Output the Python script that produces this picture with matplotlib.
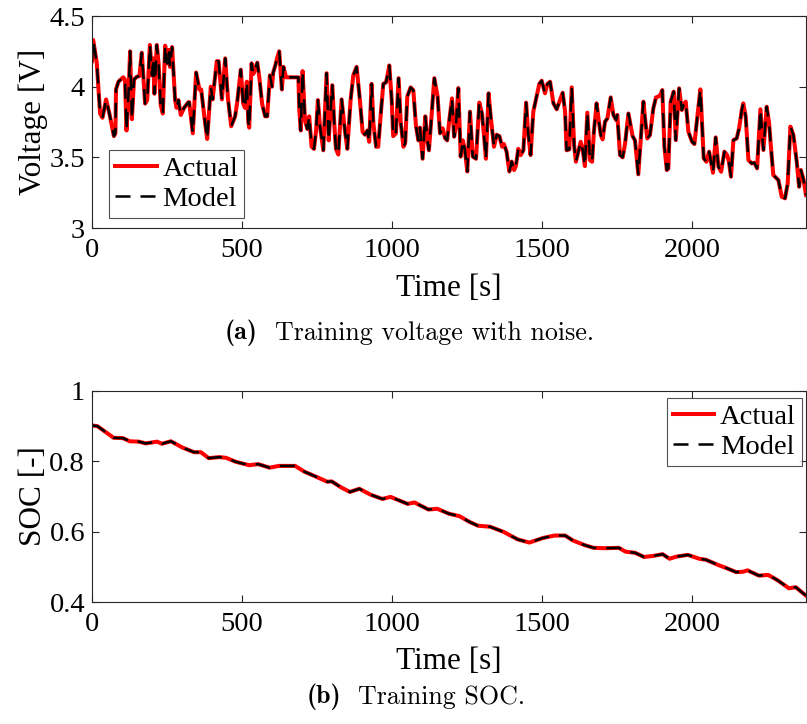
import matplotlib
matplotlib.use("Agg")
import matplotlib.pyplot as plt

# 电压数据
time_v = [0, 4, 16, 27, 35, 47, 58, 73, 78, 80, 88, 104, 110, 115, 122, 127, 133, 140, 149, 158,
          166, 177, 184, 193, 200, 204, 208, 216, 222, 229, 236, 244, 251, 256, 260, 267, 277, 282,
          288, 296, 307, 321, 324, 336, 347, 358, 364, 376, 384, 396, 402, 416, 422, 433, 444, 453,
          464, 477, 484, 496, 504, 510, 516, 521, 524, 532, 538, 544, 551, 558, 567, 577, 584, 593,
          600, 604, 611, 618, 624, 633, 638, 647, 688, 691, 696, 702, 710, 718, 724, 732, 740, 747,
          753, 760, 771, 782, 789, 793, 801, 807, 813, 821, 832, 843, 851, 862, 871, 882, 893, 902,
          910, 918, 924, 932, 938, 947, 954, 962, 971, 980, 984, 991, 999, 1004, 1013, 1022, 1029,
          1038, 1044, 1051, 1062, 1071, 1080, 1088, 1093, 1102, 1111, 1118, 1123, 1130, 1141, 1152,
          1160, 1169, 1177, 1184, 1191, 1200, 1207, 1213, 1221, 1229, 1236, 1243, 1251, 1260, 1269,
          1280, 1291, 1300, 1307, 1313, 1322, 1329, 1340, 1349, 1358, 1367, 1373, 1382, 1391, 1399,
          1407, 1413, 1421, 1429, 1438, 1447, 1454, 1462, 1471, 1482, 1491, 1499, 1510, 1518, 1527,
          1538, 1549, 1558, 1569, 1577, 1582, 1591, 1599, 1607, 1613, 1621, 1629, 1636, 1643, 1651,
          1660, 1667, 1673, 1682, 1689, 1696, 1702, 1710, 1718, 1729, 1738, 1747, 1751, 1760, 1769,
          1777, 1788, 1796, 1802, 1810, 1821, 1829, 1838, 1844, 1851, 1860, 1871, 1880, 1888, 1895,
          1901, 1908, 1916, 1921, 1929, 1939, 1946, 1957, 1966, 1972, 1979, 1988, 2000, 2008, 2019,
          2028, 2039, 2048, 2057, 2061, 2070, 2079, 2088, 2097, 2108, 2117, 2123, 2130, 2138, 2149,
          2157, 2166, 2171, 2179, 2188, 2199, 2208, 2217, 2228, 2238, 2249, 2257, 2263, 2271, 2288,
          2299, 2310, 2319, 2328, 2338, 2349, 2357, 2363, 2372, 2380]
voltage = [4.18, 4.33, 4.165, 3.81, 3.78, 3.91, 3.81, 3.65, 3.67, 3.98, 4.035, 4.066, 4.05, 3.69,
           3.96, 4.25, 3.77, 4.05, 4.07, 4.075, 4.24, 3.88, 3.905, 4.295, 4.08, 4.20, 3.95, 4.295,
           4.165, 3.87, 3.81, 4.29, 4.165, 4.26, 4.14, 4.28, 3.905, 3.85, 3.905, 3.80, 3.85, 3.89,
           3.89, 3.67, 4.10, 3.98, 3.98, 3.76, 3.63, 4.00, 3.91, 4.18, 4.18, 3.91, 4.20, 3.92,
           3.72, 3.79, 3.89, 4.12, 3.88, 3.85, 4.035, 3.75, 3.71, 4.165, 4.09, 4.13, 4.17, 4.06,
           3.88, 3.79, 3.79, 4.08, 4.00, 4.10, 4.15, 4.21, 4.25, 3.98, 4.14, 4.066, 4.066, 3.835,
           3.69, 4.11, 3.76, 3.70, 3.79, 3.575, 3.56, 3.69, 3.905, 3.72, 3.55, 4.095, 3.62, 3.76,
           4.01, 3.76, 3.56, 3.52, 3.91, 3.69, 3.56, 3.905, 4.08, 4.14, 3.905, 3.68, 3.66, 3.69,
           3.61, 4.02, 3.74, 3.575, 3.575, 3.79, 4.02, 4.03, 4.07, 4.15, 3.905, 3.65, 3.67, 4.06,
           3.75, 3.575, 3.60, 3.93, 3.995, 3.975, 3.72, 3.62, 3.71, 3.49, 3.79, 3.62, 3.55, 3.74,
           4.06, 3.93, 3.67, 3.705, 3.635, 3.62, 3.764, 3.917, 3.646, 3.716, 3.99, 3.505, 3.62,
           3.55, 3.40, 3.823, 3.505, 3.49, 3.887, 3.81, 3.646, 3.49, 3.953, 3.79, 3.575, 3.66,
           3.65, 3.575, 3.594, 3.54, 3.40, 3.47, 3.41, 3.44, 3.56, 3.516, 3.55, 3.887, 3.67, 3.516,
           3.823, 3.929, 4.019, 4.042, 3.953, 4.019, 4.035, 3.882, 3.84, 3.894, 3.957, 3.823, 3.55,
           3.556, 3.995, 3.587, 3.469, 3.54, 3.61, 3.55, 3.438, 3.816, 3.48, 3.469, 3.68, 3.882,
           3.764, 3.658, 3.627, 3.752, 3.776, 3.924, 3.80, 3.764, 3.80, 3.516, 3.50, 3.599, 3.81,
           3.717, 3.65, 3.62, 3.38, 3.62, 3.894, 3.764, 3.634, 3.658, 3.846, 3.924, 3.93, 3.945,
           3.976, 3.575, 3.41, 3.42, 3.894, 3.965, 3.622, 3.988, 3.835, 3.87, 3.894, 3.681, 3.611,
           3.594, 3.811, 3.981, 3.493, 3.469, 3.54, 3.493, 3.391, 3.641, 3.434, 3.398, 3.54, 3.516,
           3.469, 3.363, 3.622, 3.634, 3.705, 3.835, 3.882, 3.788, 3.481, 3.457, 3.462, 3.422,
           3.84, 3.552, 3.858, 3.74, 3.575, 3.375, 3.339, 3.221, 3.21, 3.316, 3.717, 3.658, 3.469,
           3.292, 3.41, 3.339, 3.233]

# SOC数据
time_soc = [0, 18, 41, 72, 103, 126, 156, 179, 217, 233, 263, 302, 340, 363, 389, 424, 447, 478,
            524, 554, 592, 623, 677, 707, 753, 784, 799, 830, 860, 891, 929, 968, 995, 1029, 1052,
            1075, 1121, 1151, 1190, 1225, 1258, 1286, 1327, 1373, 1419, 1458, 1503, 1542, 1577,
            1603, 1641, 1672, 1710, 1756, 1779, 1810, 1840, 1871, 1902, 1925, 1948, 1986, 2024,
            2047, 2085, 2116, 2147, 2170, 2185, 2223, 2254, 2285, 2323, 2346, 2380]
soc = [0.902, 0.900, 0.886, 0.867, 0.866, 0.857, 0.856, 0.851, 0.856, 0.850, 0.857, 0.839, 0.826,
       0.826, 0.809, 0.812, 0.810, 0.799, 0.789, 0.792, 0.782, 0.787, 0.787, 0.771, 0.754, 0.742,
       0.743, 0.726, 0.713, 0.722, 0.705, 0.693, 0.699, 0.687, 0.679, 0.683, 0.663, 0.665, 0.651,
       0.644, 0.628, 0.617, 0.614, 0.599, 0.578, 0.569, 0.582, 0.589, 0.589, 0.575, 0.562, 0.554,
       0.553, 0.554, 0.543, 0.540, 0.528, 0.531, 0.536, 0.523, 0.529, 0.534, 0.523, 0.520, 0.506,
       0.496, 0.485, 0.486, 0.490, 0.475, 0.477, 0.462, 0.439, 0.442, 0.418]

v_ticks = [3, 3.5, 4, 4.5]
v_tick_labels = ["3", "3.5", "4", "4.5"]
soc_ticks = [0.4, 0.6, 0.8, 1.0]
soc_tick_labels = ["0.4", "0.6", "0.8", "1"]
t_ticks = [0, 500, 1000, 1500, 2000]

plt.rcParams['font.family'] = ['Liberation Serif', 'DejaVu Serif']

fig = plt.figure(figsize=(8.07, 7.24), dpi=100)
ax1 = fig.add_axes([92 / 807, 1 - 228 / 724, 714 / 807, 212 / 724])
ax2 = fig.add_axes([92 / 807, 1 - 602 / 724, 714 / 807, 211 / 724])

DASH = (0, (6, 4))


def style_axes(ax):
    ax.set_xlim(0, 2380)
    ax.set_xticks(t_ticks)
    ax.tick_params(direction='in', length=5, width=0.8, top=True, right=True,
                   labelsize=20.5, color='#262626', pad=5)
    ax.tick_params(axis='x', pad=7)
    for s in ax.spines.values():
        s.set_color('#262626')
        s.set_linewidth(0.8)
    ax.set_xlabel('Time [s]', fontsize=22.5)
    ax.xaxis.set_label_coords(0.5, -0.215)


def add_legend(ax, loc, anchor):
    leg = ax.legend(loc=loc, bbox_to_anchor=anchor, fontsize=20.5, frameon=True,
                    fancybox=False, edgecolor='#262626', handlelength=1.45,
                    handletextpad=0.2, borderpad=0.22, labelspacing=0.12,
                    borderaxespad=0)
    leg.get_frame().set_linewidth(0.8)
    return leg


# 电压图
ax1.plot(time_v, voltage, color='red', lw=2.9, label='Actual', solid_joinstyle='round')
ax1.plot(time_v, voltage, color='black', lw=1.8, ls=DASH, label='Model')
ax1.set_ylim(3, 4.5)
ax1.set_yticks(v_ticks)
ax1.set_yticklabels(v_tick_labels)
style_axes(ax1)
ax1.set_ylabel('Voltage [V]', fontsize=22.5)
ax1.yaxis.set_label_coords(-0.062, 0.5)
add_legend(ax1, 'lower left', (17 / 714, 10 / 212))

# SOC图
ax2.plot(time_soc, soc, color='red', lw=2.9, label='Actual', solid_joinstyle='round')
ax2.plot(time_soc, soc, color='black', lw=1.8, ls=DASH, label='Model')
ax2.set_ylim(0.4, 1.0)
ax2.set_yticks(soc_ticks)
ax2.set_yticklabels(soc_tick_labels)
style_axes(ax2)
ax2.set_ylabel('SOC [-]', fontsize=22.5)
ax2.yaxis.set_label_coords(-0.062, 0.5)
add_legend(ax2, 'upper right', (1 - 4 / 714, 1 - 7 / 211))

# 图注
CAP = 18.7
fig.text(225 / 807, 1 - 333 / 724, '(a)', family='cmb10', fontsize=CAP, va='center', ha='left')
fig.text(275 / 807, 1 - 333 / 724, 'Training voltage with noise.', family='cmr10',
         fontsize=CAP, va='center', ha='left')
fig.text(307 / 807, 1 - 697 / 724, '(b)', family='cmb10', fontsize=CAP, va='center', ha='left')
fig.text(358 / 807, 1 - 697 / 724, 'Training SOC.', family='cmr10',
         fontsize=CAP, va='center', ha='left')

fig.savefig('out.png', dpi=100)
